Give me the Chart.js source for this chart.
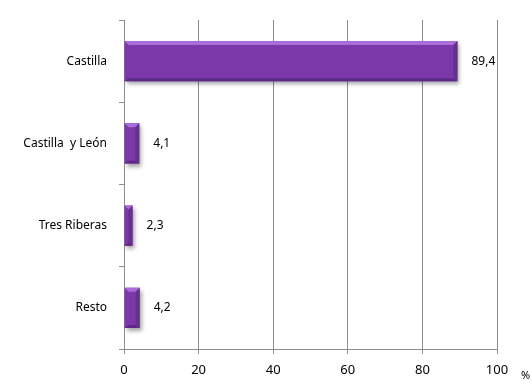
<!DOCTYPE html>
<html>
<head>
<meta charset="utf-8">
<script src="https://cdn.jsdelivr.net/npm/chart.js"></script>
<style>
  body { margin: 0; background: #fff; }
</style>
</head>
<body>
<canvas id="chart" width="532" height="385"></canvas>
<script>
// data
const categories = ["Castilla", "Castilla  y León", "Tres Riberas", "Resto"];
const shares = [89.4, 4.1, 2.3, 4.2];
const xTicks = [0, 20, 40, 60, 80, 100];

const FONT = "'Noto Sans', sans-serif";

// shadow under bars
const barShadow = {
  id: "barShadow",
  beforeDatasetsDraw(chart) {
    const ctx = chart.ctx;
    ctx.save();
    ctx.shadowColor = "rgba(0,0,0,0.35)";
    ctx.shadowBlur = 4;
    ctx.shadowOffsetX = 2;
    ctx.shadowOffsetY = 3;
  },
  afterDatasetsDraw(chart) {
    chart.ctx.restore();
  }
};

// bevel look + value labels + "%" unit
const barExtras = {
  id: "barExtras",
  afterDatasetsDraw(chart) {
    const ctx = chart.ctx;
    const meta = chart.getDatasetMeta(0);
    ctx.save();
    meta.data.forEach((bar, i) => {
      const { x, y, base, height } = bar.getProps(["x", "y", "base", "height"], true);
      const top = y - height / 2, bot = y + height / 2;
      const w = x - base;
      const b = Math.min(4, w / 2);
      // top highlight
      ctx.fillStyle = "#a96ddb";
      ctx.beginPath();
      ctx.moveTo(base, top); ctx.lineTo(x, top);
      ctx.lineTo(x - b, top + 4); ctx.lineTo(base + b, top + 4);
      ctx.closePath(); ctx.fill();
      // bottom dark
      ctx.fillStyle = "#5e2887";
      ctx.beginPath();
      ctx.moveTo(base, bot); ctx.lineTo(x, bot);
      ctx.lineTo(x - b, bot - 3); ctx.lineTo(base + b, bot - 3);
      ctx.closePath(); ctx.fill();
      // right edge
      ctx.fillStyle = "#66308f";
      ctx.beginPath();
      ctx.moveTo(x, top); ctx.lineTo(x, bot);
      ctx.lineTo(x - b, bot - 3); ctx.lineTo(x - b, top + 4);
      ctx.closePath(); ctx.fill();

      ctx.fillStyle = "#000";
      ctx.font = "12px " + FONT;
      ctx.textAlign = "left";
      ctx.textBaseline = "middle";
      ctx.fillText(String(shares[i]).replace(".", ","), x + 14, y);
    });
    ctx.font = "11px " + FONT;
    ctx.textAlign = "left";
    ctx.fillText("%", chart.chartArea.right + 24, 376);
    ctx.restore();
  }
};

new Chart(document.getElementById("chart"), {
  type: "bar",
  data: {
    labels: categories,
    datasets: [{
      data: shares,
      backgroundColor: "#7a38a8",
      borderWidth: 0,
      categoryPercentage: 1,
      barPercentage: 0.49
    }]
  },
  options: {
    indexAxis: "y",
    responsive: false,
    animation: false,
    layout: { padding: { top: 20, right: 35, bottom: 0, left: 0 } },
    plugins: {
      legend: { display: false },
      tooltip: { enabled: false }
    },
    scales: {
      x: {
        min: 0,
        max: 100,
        afterBuildTicks(scale) {
          scale.ticks = xTicks.map(v => ({ value: v }));
        },
        afterFit(scale) { scale.height = 36; },
        grid: { color: "#8e8e8e", tickLength: 5 },
        border: { color: "#8e8e8e" },
        ticks: {
          color: "#000",
          padding: 8,
          maxRotation: 0,
          font: { family: FONT, size: 13 }
        }
      },
      y: {
        afterFit(scale) { scale.width = 124; },
        grid: {
          offset: true,
          drawOnChartArea: false,
          color: "#8e8e8e",
          tickLength: 5
        },
        border: { color: "#8e8e8e" },
        ticks: {
          color: "#000",
          padding: 12,
          font: { family: FONT, size: 12 }
        }
      }
    }
  },
  plugins: [barShadow, barExtras]
});
</script>
</body>
</html>
